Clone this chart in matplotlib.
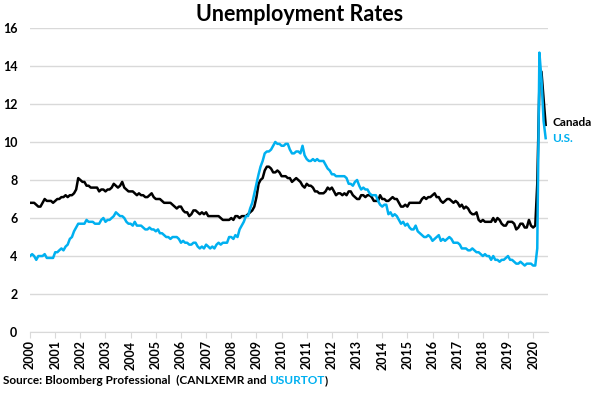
import numpy as np
import pandas as pd
import matplotlib
matplotlib.use("Agg")
import matplotlib.pyplot as plt

# monthly unemployment rates, Jan 2000 - Jul 2020
us = [
    4.0, 4.1, 4.0, 3.8, 4.0, 4.0, 4.0, 4.1, 3.9, 3.9, 3.9, 3.9,
    4.2, 4.2, 4.3, 4.4, 4.3, 4.5, 4.6, 4.9, 5.0, 5.3, 5.5, 5.7,
    5.7, 5.7, 5.7, 5.9, 5.8, 5.8, 5.8, 5.7, 5.7, 5.7, 5.9, 6.0,
    5.8, 5.9, 5.9, 6.0, 6.1, 6.3, 6.2, 6.1, 6.1, 6.0, 5.8, 5.7,
    5.7, 5.6, 5.8, 5.6, 5.6, 5.6, 5.5, 5.4, 5.4, 5.5, 5.4, 5.4,
    5.3, 5.4, 5.2, 5.2, 5.1, 5.0, 5.0, 4.9, 5.0, 5.0, 5.0, 4.9,
    4.7, 4.8, 4.7, 4.7, 4.6, 4.6, 4.7, 4.7, 4.5, 4.4, 4.5, 4.4,
    4.6, 4.5, 4.4, 4.5, 4.4, 4.6, 4.7, 4.6, 4.7, 4.7, 4.7, 5.0,
    5.0, 4.9, 5.1, 5.0, 5.4, 5.6, 5.8, 6.1, 6.1, 6.5, 6.8, 7.3,
    7.8, 8.3, 8.7, 9.0, 9.4, 9.5, 9.5, 9.6, 9.8, 10.0, 9.9, 9.9,
    9.8, 9.8, 9.9, 9.9, 9.6, 9.4, 9.4, 9.5, 9.5, 9.4, 9.8, 9.3,
    9.1, 9.0, 9.0, 9.1, 9.0, 9.1, 9.0, 9.0, 9.0, 8.8, 8.6, 8.5,
    8.3, 8.3, 8.2, 8.2, 8.2, 8.2, 8.2, 8.1, 7.8, 7.8, 7.7, 7.9,
    8.0, 7.7, 7.5, 7.6, 7.5, 7.5, 7.3, 7.2, 7.2, 7.2, 6.9, 6.7,
    6.6, 6.7, 6.7, 6.2, 6.3, 6.1, 6.2, 6.1, 5.9, 5.7, 5.8, 5.6,
    5.7, 5.5, 5.4, 5.4, 5.6, 5.3, 5.2, 5.1, 5.0, 5.0, 5.1, 5.0,
    4.8, 4.9, 5.0, 5.1, 4.8, 4.9, 4.8, 4.9, 5.0, 4.9, 4.7, 4.7,
    4.7, 4.6, 4.4, 4.4, 4.4, 4.3, 4.3, 4.4, 4.3, 4.2, 4.2, 4.1,
    4.0, 4.1, 4.0, 4.0, 3.8, 4.0, 3.8, 3.8, 3.7, 3.8, 3.8, 3.9,
    4.0, 3.8, 3.8, 3.7, 3.6, 3.6, 3.7, 3.6, 3.5, 3.6, 3.6, 3.6,
    3.5, 3.5, 4.4, 14.7, 13.3, 11.1, 10.2,
]

canada = [
    6.8, 6.8, 6.8, 6.7, 6.6, 6.6, 6.8, 7.0, 6.9, 6.9, 6.9, 6.8,
    6.9, 7.0, 7.0, 7.1, 7.1, 7.2, 7.1, 7.2, 7.2, 7.3, 7.5, 8.1,
    8.0, 7.9, 7.9, 7.7, 7.7, 7.6, 7.6, 7.6, 7.6, 7.4, 7.5, 7.5,
    7.4, 7.5, 7.5, 7.6, 7.8, 7.7, 7.6, 7.7, 7.9, 7.6, 7.5, 7.4,
    7.4, 7.4, 7.3, 7.2, 7.3, 7.2, 7.2, 7.1, 7.1, 7.2, 7.3, 7.1,
    7.0, 7.0, 7.0, 6.9, 6.8, 6.8, 6.8, 6.8, 6.7, 6.6, 6.5, 6.6,
    6.6, 6.4, 6.3, 6.3, 6.1, 6.2, 6.4, 6.4, 6.3, 6.2, 6.3, 6.2,
    6.3, 6.1, 6.1, 6.1, 6.1, 6.1, 6.1, 6.0, 5.9, 5.9, 5.9, 5.9,
    6.0, 5.9, 6.1, 6.1, 6.0, 6.1, 6.1, 6.1, 6.2, 6.3, 6.4, 6.6,
    7.1, 7.8, 8.0, 8.1, 8.5, 8.7, 8.7, 8.6, 8.4, 8.4, 8.5, 8.4,
    8.2, 8.2, 8.2, 8.1, 8.1, 7.9, 8.0, 8.1, 8.0, 7.9, 7.7, 7.6,
    7.8, 7.7, 7.7, 7.6, 7.4, 7.4, 7.3, 7.3, 7.3, 7.4, 7.6, 7.5,
    7.6, 7.4, 7.2, 7.3, 7.3, 7.2, 7.3, 7.2, 7.4, 7.4, 7.2, 7.1,
    7.0, 7.0, 7.2, 7.2, 7.1, 7.2, 7.2, 7.1, 6.9, 6.9, 6.9, 7.2,
    7.0, 7.0, 6.9, 6.9, 7.0, 7.1, 7.0, 7.0, 6.8, 6.6, 6.6, 6.7,
    6.6, 6.8, 6.8, 6.8, 6.8, 6.8, 6.8, 7.0, 7.1, 7.0, 7.1, 7.1,
    7.2, 7.3, 7.1, 7.1, 6.9, 6.8, 6.9, 7.0, 7.0, 6.9, 6.8, 6.9,
    6.8, 6.6, 6.7, 6.5, 6.6, 6.5, 6.3, 6.2, 6.2, 6.3, 5.9, 5.8,
    5.9, 5.8, 5.8, 5.8, 5.8, 6.0, 5.8, 6.0, 5.9, 5.7, 5.6, 5.6,
    5.8, 5.8, 5.8, 5.7, 5.4, 5.5, 5.7, 5.7, 5.5, 5.5, 5.9, 5.6,
    5.5, 5.6, 7.8, 13.0, 13.7, 12.3, 10.9,
]

dates = pd.date_range("2000-01-01", periods=len(us), freq="MS")
years = list(range(2000, 2021))

blue = "#00b0f0"
plt.rcParams['font.family'] = ['Lato', 'DejaVu Sans']

fig = plt.figure(figsize=(6, 3.93), dpi=100)
ax = fig.add_axes([0.05, 0.155, 0.863, 0.774])

ax.plot(dates, canada, color="black", lw=1.8, zorder=3)
ax.plot(dates, us, color=blue, lw=1.8, zorder=3)

ax.set_ylim(0, 16)
ax.set_yticks(range(0, 17, 2))
ax.set_xlim(pd.Timestamp("2000-01-01"), pd.Timestamp("2020-08-01"))
ax.set_xticks([pd.Timestamp(f"{y}-01-01") for y in years])
ax.set_xticklabels([str(y) for y in years], rotation=90, fontweight="bold", fontsize=9)
for lab in ax.get_yticklabels():
    lab.set_fontweight("bold")
    lab.set_fontsize(9)

ax.grid(axis="y", color="#d9d9d9", lw=1)
ax.set_axisbelow(True)
for s in ["top", "right", "left"]:
    ax.spines[s].set_visible(False)
ax.spines["bottom"].set_color("#d9d9d9")
ax.tick_params(axis="y", length=0, pad=9)
ax.tick_params(axis="x", length=4, color="#d9d9d9", pad=2)

fig.text(0.5, 0.962, "Unemployment Rates", ha="center", va="center",
         fontsize=15.5, fontweight="bold")

# series labels at the right end
ax.annotate("Canada", xy=(dates[-1], canada[-1]), xytext=(5, 1.5),
            textcoords="offset points", fontsize=8.5, fontweight="bold",
            color="black", va="center", annotation_clip=False)
ax.annotate("U.S.", xy=(dates[-1], us[-1]), xytext=(5, -0.5),
            textcoords="offset points", fontsize=8.5, fontweight="bold",
            color=blue, va="center", annotation_clip=False)

# source line with coloured code
t1 = fig.text(0.005, 0.018, "Source: Bloomberg Professional  (CANLXEMR and ",
              fontsize=8.5, fontweight="bold", va="bottom")
t2 = ax.annotate("USURTOT", xy=(1, 0), xycoords=t1, fontsize=8.5,
                 fontweight="bold", color=blue, va="bottom")
ax.annotate(")", xy=(1, 0), xycoords=t2, fontsize=8.5,
            fontweight="bold", color="black", va="bottom")

fig.savefig("out.png", dpi=100)
